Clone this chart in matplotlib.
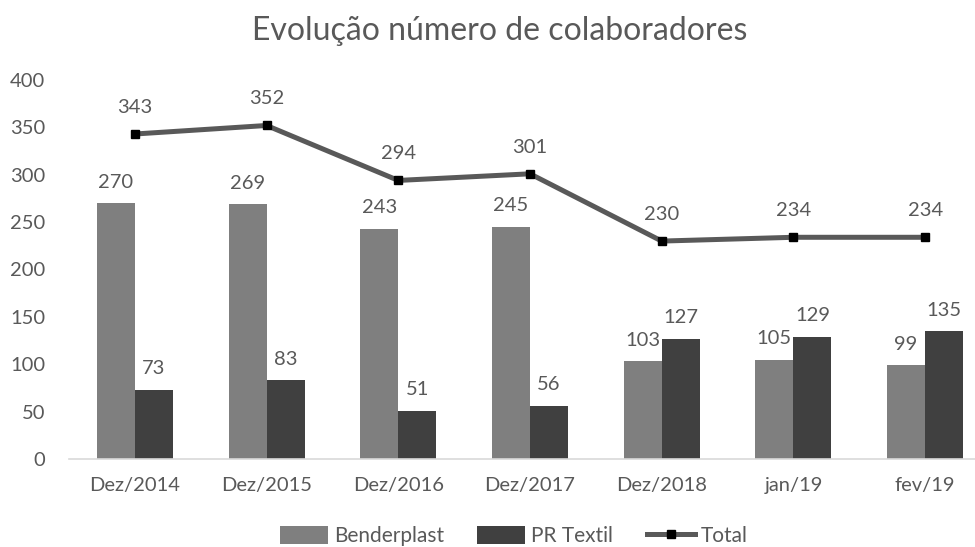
import matplotlib
matplotlib.use("Agg")
import matplotlib.pyplot as plt
import numpy as np
from matplotlib.lines import Line2D
from matplotlib.patches import Patch

categories = ["Dez/2014", "Dez/2015", "Dez/2016", "Dez/2017", "Dez/2018", "jan/19", "fev/19"]
benderplast = [270, 269, 243, 245, 103, 105, 99]
pr_textil = [73, 83, 51, 56, 127, 129, 135]
total = [343, 352, 294, 301, 230, 234, 234]
yticks = [0, 50, 100, 150, 200, 250, 300, 350, 400]

plt.rcParams['font.family'] = ['Lato', 'DejaVu Sans']
txt = '#595959'
c_bp = '#7f7f7f'
c_pr = '#404040'
c_tot = '#595959'

fig = plt.figure(figsize=(9.75, 5.47), dpi=100)
ax = fig.add_axes([69/975, 88/547, 922/975, 379/547])

x = np.arange(len(categories))
w = 0.289
ax.bar(x - w/2, benderplast, width=w, color=c_bp, zorder=2)
ax.bar(x + w/2, pr_textil, width=w, color=c_pr, zorder=2)
ax.plot(x, total, color=c_tot, lw=3.6, marker='s', markersize=5.5,
        markerfacecolor='black', markeredgecolor='black', zorder=3)

fs = 14.5
for i in range(len(x)):
    ax.annotate(str(benderplast[i]), (x[i] - w/2, benderplast[i]), xytext=(0, 9),
                textcoords='offset points', ha='center', va='bottom', fontsize=fs, color=txt)
    ax.annotate(str(pr_textil[i]), (x[i] + w/2, pr_textil[i]), xytext=(0, 9),
                textcoords='offset points', ha='center', va='bottom', fontsize=fs, color=txt)
    ax.annotate(str(total[i]), (x[i], total[i]), xytext=(0, 13),
                textcoords='offset points', ha='center', va='bottom', fontsize=fs, color=txt)

ax.set_xlim(-0.5, len(x) - 0.5)
ax.set_ylim(0, 400)
ax.set_yticks(yticks)
ax.set_xticks(x)
ax.set_xticklabels(categories)
ax.tick_params(axis='both', length=0, labelsize=fs, colors=txt)
ax.tick_params(axis='x', pad=13)
ax.tick_params(axis='y', pad=17)
for lab in ax.get_yticklabels():
    lab.set_horizontalalignment('right')
for s in ['top', 'right', 'left']:
    ax.spines[s].set_visible(False)
ax.spines['bottom'].set_color('#d9d9d9')
ax.spines['bottom'].set_linewidth(1.2)

fig.text(0.512, 1 - 31/547, "Evolução número de colaboradores", ha='center', va='center',
         fontsize=23, color=txt)

handles = [Patch(facecolor=c_bp, label='Benderplast'),
           Patch(facecolor=c_pr, label='PR Textil'),
           Line2D([0], [0], color=c_tot, lw=3.6, marker='s', markersize=5.5,
                  markerfacecolor='black', markeredgecolor='black', label='Total')]
fig.legend(handles=handles, loc='center', bbox_to_anchor=(0.527, 11/547), ncol=3,
           frameon=False, fontsize=15, labelcolor=txt, handlelength=2.3, handleheight=1.0,
           columnspacing=1.6, handletextpad=0.3)

fig.savefig("out.png", dpi=100)
